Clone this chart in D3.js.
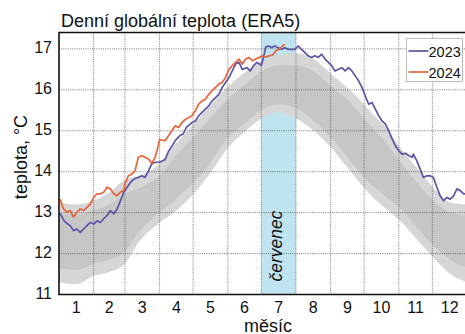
<!DOCTYPE html>
<html>
<head>
<meta charset="utf-8">
<script src="https://cdn.jsdelivr.net/npm/d3@7"></script>
<style>
  html, body { margin: 0; padding: 0; background: #fff; overflow: hidden; }
  svg { display: block; font-family: "Liberation Sans", Arial, sans-serif; }
</style>
</head>
<body>
<svg id="chart" width="465" height="334"></svg>
<script>
// 月の開始日 (day of year) とラベル
const monthStarts = [0, 31, 59, 90, 120, 151, 181, 212, 243, 273, 304, 334, 365]
const monthLabels = ['1', '2', '3', '4', '5', '6', '7', '8', '9', '10', '11', '12']
const yTicks = [11, 12, 13, 14, 15, 16, 17]

// 過去の年 (灰色の帯): 外側の範囲と濃い中心部
const bandDays = [0, 15, 31, 45, 59, 72, 90, 105, 115, 135, 150, 165, 181, 196, 212, 228, 243, 258, 270, 281, 290, 305, 320, 335, 350, 365]
const bandMax = [13.25, 13.2, 13.3, 13.5, 13.8, 13.9, 14.2, 14.7, 15.0, 15.6, 16.05, 16.4, 16.7, 16.85, 16.9, 16.75, 16.4, 16.05, 15.73, 15.4, 15.15, 14.6, 14.1, 13.6, 13.25, 13.2]
const bandMin = [11.3, 11.25, 11.45, 11.55, 11.75, 12.3, 12.75, 13.05, 13.3, 13.95, 14.55, 14.95, 15.3, 15.45, 15.3, 15.0, 14.6, 14.1, 13.7, 13.37, 13.15, 12.8, 12.35, 11.9, 11.5, 11.3]
const coreMax = [13.0, 12.95, 13.05, 13.2, 13.45, 13.6, 13.9, 14.4, 14.7, 15.3, 15.75, 16.1, 16.45, 16.6, 16.6, 16.45, 16.1, 15.75, 15.4, 15.05, 14.8, 14.25, 13.75, 13.3, 13.0, 12.95]
const coreMin = [11.65, 11.6, 11.75, 11.85, 12.05, 12.55, 13.0, 13.35, 13.6, 14.2, 14.8, 15.15, 15.5, 15.65, 15.55, 15.25, 14.85, 14.35, 13.95, 13.65, 13.45, 13.1, 12.65, 12.2, 11.85, 11.65]

// 2023
const days2023 = [1, 5, 10, 13, 16, 19, 22, 25, 28, 31, 34, 37, 40, 43, 46, 49, 52, 55, 58, 61, 64, 67, 71, 74, 77, 80, 83, 86, 90, 95, 98, 101, 104, 108, 111, 114, 119, 122, 125, 128, 131, 134, 137, 140, 143, 146, 149, 152, 155, 158, 161, 164, 168, 171, 174, 177, 181, 183, 185, 188, 190, 193, 196, 199, 202, 205, 208, 211, 214, 217, 220, 223, 226, 229, 232, 235, 238, 241, 244, 247, 250, 253, 256, 259, 262, 265, 268, 271, 274, 277, 280, 283, 286, 289, 292, 295, 298, 301, 304, 307, 310, 313, 316, 317, 320, 323, 326, 329, 332, 335, 338, 341, 344, 347, 350, 353, 356, 359, 362, 365]
const temps2023 = [12.98, 12.78, 12.68, 12.56, 12.6, 12.52, 12.6, 12.68, 12.76, 12.72, 12.8, 12.76, 12.85, 12.93, 13.05, 12.97, 13.09, 13.29, 13.5, 13.62, 13.74, 13.82, 13.86, 13.9, 13.86, 14.02, 14.19, 14.23, 14.23, 14.3, 14.5, 14.62, 14.76, 14.88, 14.92, 15.08, 15.2, 15.24, 15.37, 15.45, 15.53, 15.61, 15.73, 15.81, 15.89, 16.06, 16.18, 16.3, 16.46, 16.63, 16.67, 16.5, 16.54, 16.46, 16.59, 16.67, 16.6, 16.8, 17.05, 17.07, 17.03, 17.07, 17.03, 16.99, 17.03, 16.99, 16.99, 16.99, 17.07, 16.99, 16.91, 16.83, 16.79, 16.83, 16.79, 16.87, 16.75, 16.67, 16.59, 16.46, 16.5, 16.54, 16.46, 16.54, 16.46, 16.34, 16.22, 16.06, 15.85, 15.65, 15.69, 15.53, 15.37, 15.24, 15.16, 15.0, 14.8, 14.63, 14.51, 14.43, 14.45, 14.39, 14.35, 14.43, 14.27, 14.07, 13.86, 13.9, 13.9, 13.86, 13.62, 13.41, 13.29, 13.37, 13.33, 13.41, 13.58, 13.54, 13.46, 13.45]

// 2024
const days2024 = [1, 4, 7, 10, 13, 16, 19, 22, 25, 28, 31, 34, 37, 40, 43, 46, 49, 52, 55, 58, 59, 62, 65, 68, 71, 74, 77, 80, 83, 86, 88, 90, 95, 98, 101, 104, 107, 110, 113, 116, 119, 122, 125, 128, 131, 134, 137, 140, 143, 146, 149, 152, 155, 158, 161, 164, 167, 170, 173, 176, 179, 182, 185, 188, 191, 194, 197, 200, 202]
const temps2024 = [13.33, 13.09, 13.01, 13.05, 12.89, 13.01, 13.09, 13.05, 13.13, 13.21, 13.37, 13.46, 13.46, 13.5, 13.62, 13.58, 13.46, 13.41, 13.5, 13.54, 13.7, 13.9, 13.94, 14.02, 14.35, 14.39, 14.35, 14.31, 14.2, 14.35, 14.55, 14.78, 14.76, 14.88, 15.0, 15.12, 15.08, 15.2, 15.28, 15.32, 15.37, 15.49, 15.65, 15.73, 15.77, 15.89, 15.98, 16.06, 16.14, 16.18, 16.3, 16.5, 16.59, 16.67, 16.75, 16.63, 16.75, 16.79, 16.71, 16.75, 16.79, 16.83, 16.8, 16.83, 16.85, 16.95, 16.99, 17.07, 17.11]

const COLORS = { y2023: '#5a55a5', y2024: '#e8623a', band: '#d6d6d6', core: '#c6c6c6', july: '#bfe3ef' }

const svg = d3.select('#chart')
const plotLeft = 59, plotTop = 32.5, plotBottom = 294.5, plotRight = 467

const x = d3.scaleLinear().domain([0, 365]).range([plotLeft, plotRight])
const y = d3.scaleLinear().domain([11, 17.4]).range([plotBottom, plotTop])

// 7月の帯
svg.append('rect')
  .attr('x', x(monthStarts[6]))
  .attr('y', plotTop)
  .attr('width', x(monthStarts[7]) - x(monthStarts[6]))
  .attr('height', plotBottom - plotTop)
  .attr('fill', COLORS.july)

// 灰色の帯
const bandArea = (lo, hi) => d3.area()
  .x((d, i) => x(bandDays[i]))
  .y0((d, i) => y(lo[i]))
  .y1((d, i) => y(hi[i]))
  .curve(d3.curveMonotoneX)

svg.append('path').datum(bandDays).attr('d', bandArea(bandMin, bandMax)).attr('fill', COLORS.band)
svg.append('path').datum(bandDays).attr('d', bandArea(coreMin, coreMax)).attr('fill', COLORS.core)

// グリッド
const grid = svg.append('g').attr('stroke', '#555').attr('stroke-width', 0.8).attr('stroke-dasharray', '1,1.2')
grid.selectAll('line.v')
  .data(monthStarts.slice(1, 12))
  .enter().append('line')
  .attr('class', 'v')
  .attr('x1', d => x(d)).attr('x2', d => x(d))
  .attr('y1', plotTop).attr('y2', plotBottom)
grid.selectAll('line.h')
  .data(yTicks.slice(1))
  .enter().append('line')
  .attr('class', 'h')
  .attr('x1', plotLeft).attr('x2', plotRight)
  .attr('y1', d => y(d)).attr('y2', d => y(d))

// 7月ラベル
svg.append('text')
  .attr('transform', `translate(${x(196.5) + 3.5},246) rotate(-90)`)
  .attr('text-anchor', 'middle')
  .attr('font-size', 17.5)
  .attr('font-style', 'italic')
  .attr('fill', '#111')
  .text('červenec')

// 年ごとの線
const line = d3.line().curve(d3.curveLinear)
const drawYear = (days, temps, color) => {
  svg.append('path')
    .attr('d', line(days.map((d, i) => [x(d), y(temps[i])])))
    .attr('fill', 'none')
    .attr('stroke', color)
    .attr('stroke-width', 1.7)
    .attr('stroke-linejoin', 'round')
}
drawYear(days2023, temps2023, COLORS.y2023)
drawYear(days2024, temps2024, COLORS.y2024)

// 枠
svg.append('path')
  .attr('d', `M${plotRight + 5},${plotTop}H${plotLeft}V${plotBottom}H${plotRight + 5}`)
  .attr('fill', 'none')
  .attr('stroke', '#111')
  .attr('stroke-width', 1.6)

// Y軸ラベル
svg.append('g').selectAll('text')
  .data(yTicks)
  .enter().append('text')
  .attr('x', 52)
  .attr('y', d => y(d) - 1.5)
  .attr('text-anchor', 'end')
  .attr('dominant-baseline', 'central')
  .attr('font-size', 16)
  .attr('fill', '#111')
  .text(d => d)

// X軸ラベル (月の中央)
svg.append('g').selectAll('text')
  .data(monthLabels)
  .enter().append('text')
  .attr('x', (d, i) => x((monthStarts[i] + monthStarts[i + 1]) / 2))
  .attr('y', 313)
  .attr('text-anchor', 'middle')
  .attr('font-size', 16)
  .attr('fill', '#111')
  .text(d => d)

// タイトルと軸タイトル
svg.append('text').attr('x', 61).attr('y', 27).attr('font-size', 18).attr('fill', '#111')
  .text('Denní globální teplota (ERA5)')
svg.append('text').attr('x', 268).attr('y', 331.5).attr('text-anchor', 'middle').attr('font-size', 18).attr('fill', '#111')
  .text('měsíc')
svg.append('text')
  .attr('transform', 'translate(27,157) rotate(-90)')
  .attr('text-anchor', 'middle')
  .attr('font-size', 18)
  .attr('fill', '#111')
  .text('teplota, °C')

// 凡例
const legend = svg.append('g').attr('transform', 'translate(406.5,38.5)')
legend.append('rect').attr('width', 56).attr('height', 43).attr('fill', '#fff').attr('stroke', '#bbb').attr('stroke-width', 1)
const legendItems = [['2023', COLORS.y2023], ['2024', COLORS.y2024]]
legendItems.forEach(([label, color], i) => {
  legend.append('line')
    .attr('x1', 2).attr('x2', 22)
    .attr('y1', 12.5 + i * 21).attr('y2', 12.5 + i * 21)
    .attr('stroke', color).attr('stroke-width', 1.7)
  legend.append('text')
    .attr('x', 22).attr('y', 18 + i * 21)
    .attr('font-size', 14.5)
    .attr('fill', '#111')
    .text(label)
})
</script>
</body>
</html>
